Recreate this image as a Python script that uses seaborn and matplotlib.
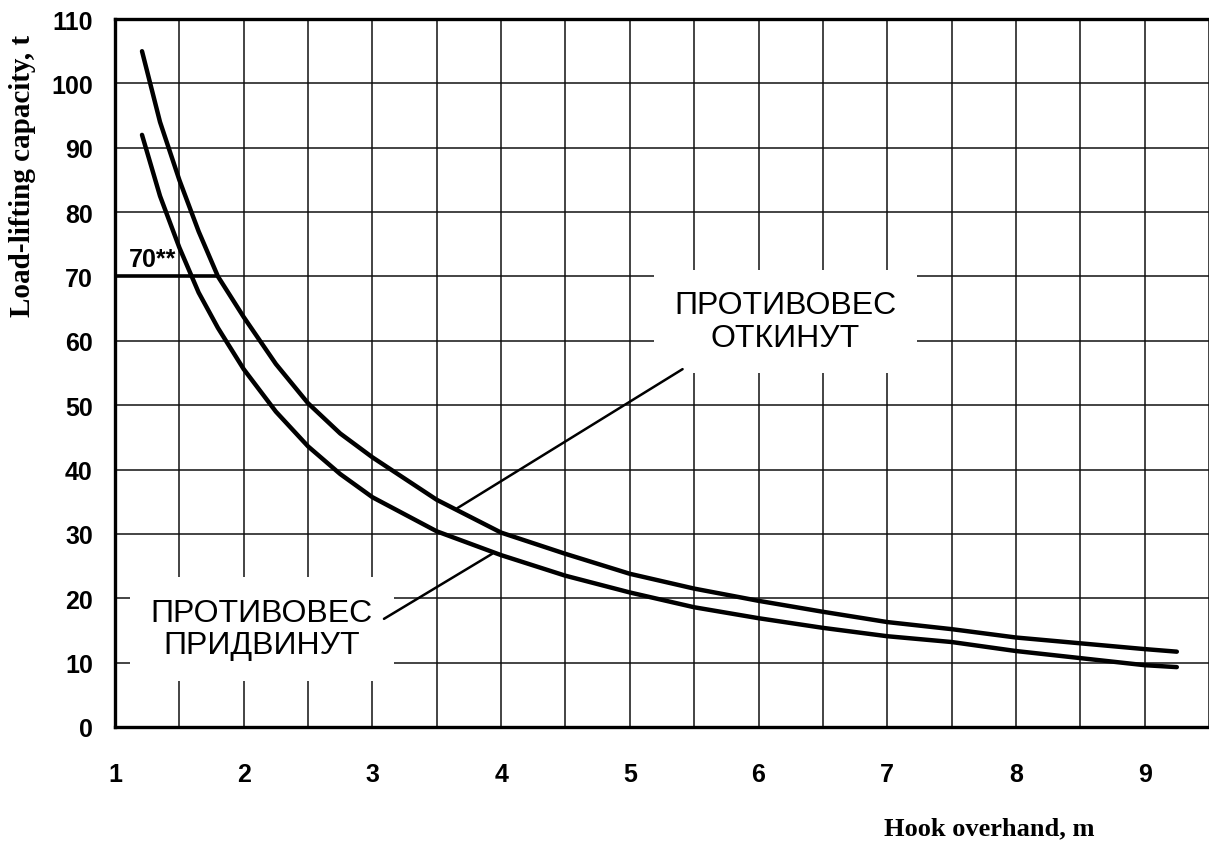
import pandas as pd
import seaborn as sns
import matplotlib.pyplot as plt
from matplotlib.ticker import MultipleLocator

# Hook overhand (m) and load-lifting capacity (t)
overhand = [1.21, 1.35, 1.5, 1.65, 1.8, 2.0, 2.25, 2.5, 2.75, 3.0, 3.5, 4.0,
            4.5, 5.0, 5.5, 6.0, 6.5, 7.0, 7.5, 8.0, 8.5, 9.0, 9.25]
cap_otkinut = [105, 94, 85, 77, 70, 63.7, 56.4, 50.3, 45.6, 41.9, 35.3, 30.2,
               26.9, 23.8, 21.5, 19.6, 17.9, 16.3, 15.2, 13.9, 13.0, 12.1, 11.7]
cap_pridvinut = [92, 82.5, 74.5, 67.5, 62, 55.6, 49, 43.6, 39.3, 35.7, 30.4, 26.7,
                 23.5, 20.9, 18.6, 16.9, 15.4, 14.1, 13.2, 11.8, 10.7, 9.6, 9.3]

limit_x = [1.0, 1.8]
limit_y = [70, 70]

x_ticks = [1, 2, 3, 4, 5, 6, 7, 8, 9]
y_ticks = [0, 10, 20, 30, 40, 50, 60, 70, 80, 90, 100, 110]

df = pd.DataFrame({
    'x': overhand * 2,
    'y': cap_otkinut + cap_pridvinut,
    'curve': ['ПРОТИВОВЕС ОТКИНУТ'] * len(overhand) + ['ПРОТИВОВЕС ПРИДВИНУТ'] * len(overhand),
})

sns.set_style('white')
plt.rcParams['font.family'] = ['Liberation Sans', 'DejaVu Sans']
plt.rcParams['text.color'] = 'black'
plt.rcParams['xtick.color'] = 'black'
plt.rcParams['ytick.color'] = 'black'
plt.rcParams['axes.labelcolor'] = 'black'

fig = plt.figure(figsize=(12.09, 8.45), dpi=100)
ax = fig.add_axes([0.0951, 0.1385, 0.9049, 0.8378])

sns.lineplot(data=df, x='x', y='y', hue='curve', palette=['black', 'black'],
             linewidth=3.2, legend=False, ax=ax, zorder=5, sort=False)
ax.plot(limit_x, limit_y, color='black', linewidth=2.6, zorder=5, solid_capstyle='butt')

ax.set_xlim(1, 9.5)
ax.set_ylim(0, 110)
ax.set_xticks(x_ticks)
ax.xaxis.set_minor_locator(MultipleLocator(0.5))
ax.set_yticks(y_ticks)

ax.grid(True, which='both', color='#111111', linewidth=1.1)
ax.set_axisbelow(True)

for side in ['left', 'bottom', 'top']:
    ax.spines[side].set_linewidth(2.4)
    ax.spines[side].set_color('black')
ax.spines['right'].set_visible(False)

tick_font = dict(family='Liberation Sans', weight='bold', size=18)
ax.set_xticklabels([str(t) for t in x_ticks], fontdict=tick_font)
ax.set_yticklabels([str(t) for t in y_ticks], fontdict=tick_font)
ax.tick_params(axis='x', which='both', length=0, pad=25)
ax.tick_params(axis='y', which='both', length=0, pad=16)

ax.set_xlabel('')
ax.set_ylabel('Load-lifting capacity, t', family='Liberation Serif', weight='bold', fontsize=21)
ax.yaxis.set_label_coords(-0.072, 0.78)
fig.text(0.905, 0.011, 'Hook overhand, m', family='Liberation Serif', weight='bold',
         fontsize=19, ha='right', va='baseline')

ax.text(1.11, 71.6, '70**', fontdict=tick_font, ha='left', va='baseline', zorder=6)

box = dict(boxstyle='square,pad=0.65', facecolor='white', edgecolor='none')
ax.text(6.21, 63.0, 'ПРОТИВОВЕС\nОТКИНУТ', fontsize=23, ha='center', va='center',
        linespacing=1.1, bbox=box, zorder=4)
ax.text(2.14, 15.2, 'ПРОТИВОВЕС\nПРИДВИНУТ', fontsize=23, ha='center', va='center',
        linespacing=1.1, bbox=box, zorder=4)

# leader lines
ax.plot([3.66, 5.41], [34.0, 55.6], color='black', linewidth=1.8, zorder=6)
ax.plot([3.09, 3.93], [16.8, 26.9], color='black', linewidth=1.8, zorder=6)

fig.savefig('out.png', dpi=100)
